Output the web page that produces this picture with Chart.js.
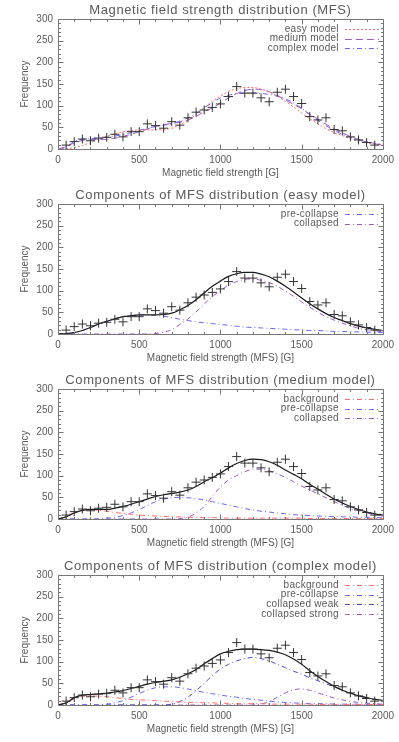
<!DOCTYPE html>
<html>
<head>
<meta charset="utf-8">
<script src="https://cdn.jsdelivr.net/npm/chart.js@4.4.0/dist/chart.umd.min.js"></script>
<style>
  body { margin: 0; background: #fff; }
  .panel { position: absolute; left: 0; width: 399px; height: 185px; }
</style>
</head>
<body>
<div class="panel" style="top:0px"><canvas id="mfsAll"></canvas></div>
<div class="panel" style="top:185px"><canvas id="mfsEasy"></canvas></div>
<div class="panel" style="top:370px"><canvas id="mfsMedium"></canvas></div>
<div class="panel" style="top:556px"><canvas id="mfsComplex"></canvas></div>
<script>
// === DATA ===
const fieldGrid = [0, 50, 100, 150, 200, 250, 300, 350, 400, 450, 500, 550, 600, 650, 700, 750, 800, 850, 900, 950,
  1000, 1050, 1100, 1150, 1200, 1250, 1300, 1350, 1400, 1450, 1500, 1550, 1600, 1650, 1700, 1750, 1800, 1850, 1900, 1950, 2000];

// observed histogram (crosses)
const obsField = [50, 100, 150, 200, 250, 300, 350, 400, 450, 500, 550, 600, 650, 700, 750, 800, 850, 900, 950, 1000,
  1050, 1100, 1150, 1200, 1250, 1300, 1350, 1400, 1450, 1500, 1550, 1600, 1650, 1700, 1750, 1800, 1850, 1900, 1950];
const obsCount = [9, 17, 23, 19, 25, 27, 34, 28, 40, 40, 58, 54, 48, 63, 55, 72, 85, 90, 96, 104,
  121, 144, 129, 129, 118, 109, 131, 138, 121, 105, 75, 67, 72, 45, 42, 28, 21, 15, 9];

// easy model
const easyTotal = [0, 1, 3, 8, 15, 23, 29, 35, 40, 42, 44, 44, 44, 45, 48, 56, 66, 79, 95, 110,
  122, 133, 139, 142, 142, 138, 132, 122, 110, 97, 83, 70, 58, 47, 38, 31, 24, 18, 14, 11, 8];
const easyPre = [0, 1, 3, 8, 15, 23, 29, 35, 40, 42, 44, 44, 43, 41, 38, 34, 31, 28, 26, 24,
  22, 20, 18, 16, 15, 14, 13, 12, 11, 10, 9, 8, 8, 7, 6, 6, 5, 5, 4, 4, 3];
const easyCollapsed = [0, 0, 0, 0, 0, 0, 0, 0, 0, 0, 0, 0, 1, 4, 10, 22, 35, 51, 69, 86,
  100, 113, 121, 126, 127, 124, 119, 110, 99, 87, 74, 62, 50, 40, 32, 25, 19, 13, 10, 7, 5];

// medium model
const mediumTotal = [0, 5, 14, 20, 22, 22, 22, 25, 29, 34, 40, 46, 52, 56, 59, 62, 67, 75, 86, 95,
  106, 118, 128, 135, 138, 137, 132, 124, 113, 103, 93, 80, 69, 57, 46, 37, 29, 22, 16, 12, 9];
const mediumBackground = [0, 6, 15, 21, 22, 20, 18, 15, 13, 11, 9, 8, 7, 6, 5, 5, 4, 4, 3, 3,
  3, 2, 2, 2, 2, 2, 2, 2, 2, 2, 2, 1, 1, 1, 1, 1, 1, 1, 1, 1, 1];
const mediumPre = [0, 0, 0, 0, 0, 0, 2, 4, 8, 14, 22, 31, 40, 46, 49, 50, 49, 47, 44, 40,
  36, 32, 28, 24, 21, 18, 16, 14, 12, 10, 9, 8, 7, 6, 6, 5, 5, 4, 4, 3, 3];
const mediumCollapsed = [0, 0, 0, 0, 0, 0, 0, 0, 0, 0, 0, 0, 0, 0, 0, 1, 4, 14, 29, 52,
  74, 90, 100, 109, 115, 115, 111, 104, 96, 86, 76, 67, 58, 49, 40, 32, 24, 19, 14, 10, 7];

// complex model
const complexTotal = [0, 5, 17, 23, 24, 26, 27, 30, 33, 38, 43, 48, 52, 55, 58, 64, 72, 82, 95, 107,
  118, 124, 128, 129, 129, 128, 126, 122, 116, 106, 94, 79, 66, 54, 43, 34, 27, 21, 17, 13, 11];
const complexBackground = [0, 6, 14, 20, 21, 20, 19, 17, 15, 13, 12, 11, 10, 9, 8, 7, 6, 6, 5, 5,
  4, 4, 3, 3, 3, 3, 2, 2, 2, 2, 2, 2, 1, 1, 1, 1, 1, 1, 1, 1, 1];
const complexPre = [0, 0, 0, 0, 0, 0, 2, 5, 10, 18, 27, 34, 40, 42, 42, 40, 37, 33, 29, 26,
  23, 20, 18, 15, 13, 11, 9, 7, 6, 5, 4, 3, 3, 3, 2, 2, 2, 2, 1, 1, 1];
const complexWeak = [0, 0, 0, 0, 0, 0, 0, 0, 0, 0, 0, 0, 0, 0, 2, 8, 18, 33, 50, 68,
  83, 94, 102, 107, 110, 107, 102, 94, 86, 78, 71, 63, 56, 49, 42, 35, 28, 22, 17, 13, 11];
const complexStrong = [0, 0, 0, 0, 0, 0, 0, 0, 0, 0, 0, 0, 0, 0, 0, 0, 0, 0, 0, 0,
  0, 0, 0, 0, 0, 2, 8, 18, 28, 35, 37, 34, 28, 22, 16, 12, 8, 6, 4, 3, 2];

// === STYLE ===
const FONT = "'Liberation Sans', Arial, sans-serif";
const TEXT = '#5a5a5a';
const AXIS = '#777';
const RED = '#ff6a6a', BLUE = '#6666ff', DBLUE = '#4a4ad6', PURPLE = '#9a5cc6', BLACK = '#1a1a1a';
const DOT = [2, 2], DASH = [7, 4], DASHDOT = [5, 3, 1, 3];

const pts = (xs, ys) => xs.map((x, i) => ({ x, y: ys[i] }));

function curve(label, ys, color, dash, width) {
  return {
    label, data: pts(fieldGrid, ys),
    borderColor: color, borderDash: dash, borderWidth: width || 1,
    pointRadius: 0, cubicInterpolationMode: 'monotone', fill: false
  };
}
function observed() {
  return {
    label: '', data: pts(obsField, obsCount), showLine: false,
    pointStyle: 'cross', pointRadius: 4.5, borderColor: '#333', borderWidth: 1
  };
}

// box with inward ticks on all four sides (IDL look)
const idlFrame = {
  id: 'idlFrame',
  afterDatasetsDraw(chart) {
    const { ctx, chartArea: a, scales: { x, y } } = chart;
    ctx.save();
    ctx.strokeStyle = AXIS;
    ctx.lineWidth = 1;
    ctx.beginPath();
    const L = Math.round(a.left) + 0.5, R = Math.round(a.right) + 0.5;
    const T = Math.round(a.top) + 0.5, B = Math.round(a.bottom) + 0.5;
    ctx.rect(L, T, R - L, B - T);
    for (let v = 0; v <= 2000; v += 100) {
      const px = Math.round(x.getPixelForValue(v)) + 0.5;
      const len = v % 500 === 0 ? 5 : 2.5;
      ctx.moveTo(px, B); ctx.lineTo(px, B - len);
      ctx.moveTo(px, T); ctx.lineTo(px, T + len);
    }
    for (let v = 0; v <= 300; v += 10) {
      const py = Math.round(y.getPixelForValue(v)) + 0.5;
      const len = v % 50 === 0 ? 5 : 2.5;
      ctx.moveTo(L, py); ctx.lineTo(L + len, py);
      ctx.moveTo(R, py); ctx.lineTo(R - len, py);
    }
    ctx.stroke();
    ctx.restore();
  }
};

// title centred over the plot box, legend with line sample after the label
const idlText = {
  id: 'idlText',
  afterDatasetsDraw(chart, args, opts) {
    const { ctx, chartArea: a } = chart;
    ctx.save();
    ctx.fillStyle = TEXT;
    ctx.font = '13px ' + FONT;
    ctx.letterSpacing = '0.6px';
    ctx.textAlign = 'center';
    ctx.textBaseline = 'middle';
    ctx.fillText(opts.title, (a.left + a.right) / 2, a.top - 9);

    ctx.font = '10px ' + FONT;
    ctx.letterSpacing = '0.3px';
    ctx.textAlign = 'right';
    chart.data.datasets.filter(d => d.label).forEach((d, i) => {
      const y = a.top + 10 + i * 9.7;
      ctx.fillStyle = TEXT;
      ctx.fillText(d.label, a.right - 44, y);
      ctx.strokeStyle = d.borderColor;
      ctx.lineWidth = 1;
      ctx.setLineDash(d.borderDash);
      ctx.beginPath();
      ctx.moveTo(a.right - 38, Math.round(y) + 0.5);
      ctx.lineTo(a.right - 4, Math.round(y) + 0.5);
      ctx.stroke();
    });
    ctx.restore();
  }
};

function makeChart(id, title, xTitle, datasets) {
  return new Chart(document.getElementById(id), {
    type: 'line',
    data: { datasets },
    options: {
      responsive: true,
      maintainAspectRatio: false,
      animation: false,
      layout: { padding: { top: 19, right: 16, bottom: 0, left: 0 } },
      plugins: {
        legend: { display: false },
        tooltip: { enabled: false },
        title: { display: false },
        idlText: { title }
      },
      scales: {
        x: {
          type: 'linear', min: 0, max: 2000,
          grid: { display: false, drawTicks: false },
          border: { display: false },
          ticks: { stepSize: 500, color: TEXT, font: { family: FONT, size: 10 }, padding: 5, maxRotation: 0, callback: v => String(v) },
          title: { display: true, text: xTitle, color: TEXT, font: { family: FONT, size: 10 }, padding: { top: 0, bottom: 6 } },
          afterFit: s => { s.height = 36; }
        },
        y: {
          min: 0, max: 300,
          grid: { display: false, drawTicks: false },
          border: { display: false },
          ticks: { stepSize: 50, color: TEXT, font: { family: FONT, size: 10 }, padding: 5, callback: v => String(v) },
          title: { display: true, text: 'Frequency', color: TEXT, font: { family: FONT, size: 10 }, padding: { top: 19, bottom: 0 } },
          afterFit: s => { s.width = 58; }
        }
      }
    },
    plugins: [idlFrame, idlText]
  });
}

makeChart('mfsAll', 'Magnetic field strength distribution (MFS)', 'Magnetic field strength [G]', [
  observed(),
  curve('easy model', easyTotal, RED, DOT),
  curve('medium model', mediumTotal, PURPLE, DASH),
  curve('complex model', complexTotal, BLUE, DASHDOT)
]);

makeChart('mfsEasy', 'Components of MFS distribution (easy model)', 'Magnetic field strength (MFS) [G]', [
  observed(),
  curve('', easyTotal, BLACK, [], 1.2),
  curve('pre-collapse', easyPre, BLUE, DASHDOT),
  curve('collapsed', easyCollapsed, PURPLE, DASHDOT)
]);

makeChart('mfsMedium', 'Components of MFS distribution (medium model)', 'Magnetic field strength (MFS) [G]', [
  observed(),
  curve('', mediumTotal, BLACK, [], 1.2),
  curve('background', mediumBackground, RED, DASHDOT),
  curve('pre-collapse', mediumPre, BLUE, DASHDOT),
  curve('collapsed', mediumCollapsed, PURPLE, DASHDOT)
]);

makeChart('mfsComplex', 'Components of MFS distribution (complex model)', 'Magnetic field strength (MFS) [G]', [
  observed(),
  curve('', complexTotal, BLACK, [], 1.2),
  curve('background', complexBackground, RED, DASHDOT),
  curve('pre-collapse', complexPre, BLUE, DASHDOT),
  curve('collapsed weak', complexWeak, DBLUE, DASHDOT),
  curve('collapsed strong', complexStrong, PURPLE, DASHDOT)
]);
</script>
</body>
</html>
